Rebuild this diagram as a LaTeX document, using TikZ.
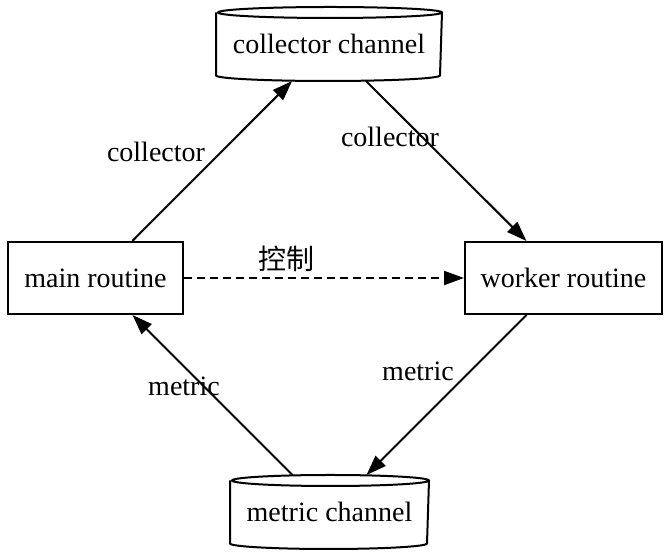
\documentclass[tikz,border=0pt]{standalone}
\usepackage{fontspec}
\setmainfont{Liberation Serif}
\newfontfamily\cjk{Noto Sans CJK SC}
\usetikzlibrary{arrows.meta}

% outline of a channel drawn as a flat cylinder, #2 = half width
\newcommand{\chanoutline}[2]{%
\draw ([yshift=-5.5pt]#1.north west) -- ([yshift=5.5pt]#1.south west)
  arc[start angle=180,end angle=360,x radius=#2,y radius=5.5pt]
  -- ([yshift=-5.5pt]#1.north east)
  arc[start angle=0,end angle=360,x radius=#2,y radius=5.5pt];}

\begin{document}
\begin{tikzpicture}[x=1pt,y=1pt,line width=2pt,
  font=\fontsize{28pt}{34pt}\selectfont,
  routine/.style={rectangle,draw,minimum height=72pt,inner sep=0pt},
  chan/.style={rectangle,minimum height=72pt,inner sep=0pt},
  flow/.style={-{Triangle[length=20pt,width=14pt]}},
  lbl/.style={inner sep=0pt}]
\useasboundingbox (0,0) rectangle (670,556);

\node[chan,minimum width=224pt] (cc) at (329,512){collector channel};
\node[routine,minimum width=175pt] (main) at (95.5,278){main routine};
\node[routine,minimum width=197pt] (worker) at (563.5,278){worker routine};
\node[chan,minimum width=197pt] (mc) at (329.5,44){metric channel};

\chanoutline{cc}{112pt}
\chanoutline{mc}{98.5pt}

\draw[flow] (main) -- (cc);
\draw[flow] (cc) -- (worker);
\draw[flow] (worker) -- (mc);
\draw[flow] (mc) -- (main);
\draw[flow,dash pattern=on 8pt off 5pt] (main) -- (worker);

\node[lbl,anchor=base] (lcollect) at (156,394){collector};
\node[lbl,anchor=base] (rcollect) at (390,409){collector};
\node[lbl] (ctrl) at (286,297){\cjk 控制};
\node[lbl,anchor=base] (rmetric) at (418,175){metric};
\node[lbl,anchor=base] (lmetric) at (184,160){metric};

\end{tikzpicture}
\end{document}
